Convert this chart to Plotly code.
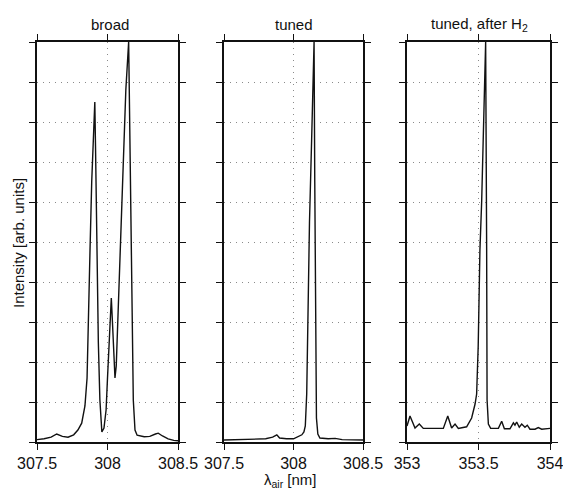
import plotly.graph_objects as go

# Emission line profiles: wavelength (nm) and intensity (arb. units)
broad_wl = [307.50, 307.55, 307.60, 307.64, 307.68, 307.72, 307.76, 307.79, 307.817,
            307.84, 307.855, 307.866, 307.876, 307.888, 307.90, 307.91, 307.915,
            307.923, 307.935, 307.946, 307.96, 307.975, 307.99, 308.00, 308.01,
            308.02, 308.027, 308.035, 308.045, 308.053, 308.062, 308.075, 308.089,
            308.11, 308.13, 308.15, 308.16, 308.167, 308.175, 308.183, 308.195,
            308.21, 308.26, 308.30, 308.34, 308.36, 308.39, 308.43, 308.47, 308.50]
broad_int = [0.06, 0.08, 0.12, 0.20, 0.14, 0.12, 0.18, 0.30, 0.47,
             0.90, 1.60, 3.00, 4.80, 6.50, 7.80, 8.50, 7.40,
             4.80, 2.50, 1.05, 0.25, 0.35, 0.80, 1.60, 2.50,
             3.30, 3.60, 3.00, 2.00, 1.60, 1.90, 3.20, 4.80,
             7.00, 8.80, 10.0, 7.50, 4.80, 2.50, 1.05, 0.30,
             0.17, 0.13, 0.14, 0.20, 0.22, 0.15, 0.08, 0.04, 0.03]

tuned_wl = [307.50, 307.60, 307.70, 307.80, 307.85, 307.88, 307.90, 307.95, 308.00,
            308.03, 308.06, 308.075, 308.085, 308.095, 308.105, 308.115, 308.13,
            308.14, 308.148, 308.153, 308.158, 308.165, 308.175, 308.19, 308.25,
            308.30, 308.35, 308.50]
tuned_int = [0.05, 0.06, 0.07, 0.08, 0.12, 0.18, 0.10, 0.08, 0.08,
             0.14, 0.18, 0.25, 0.40, 1.20, 3.50, 5.50, 7.50,
             8.70, 10.0, 6.50, 3.50, 0.60, 0.20, 0.10, 0.08,
             0.09, 0.06, 0.05]

h2_wl = [353.000, 353.021, 353.056, 353.086, 353.114, 353.254, 353.285, 353.312,
         353.336, 353.359, 353.417, 353.452, 353.476, 353.487, 353.498, 353.510,
         353.522, 353.534, 353.545, 353.550, 353.557, 353.560, 353.569, 353.585,
         353.639, 353.662, 353.681, 353.720, 353.744, 353.755, 353.767, 353.785,
         353.802, 353.825, 353.841, 353.860, 353.895, 353.918, 353.942, 353.977,
         354.000]
h2_int = [0.40, 0.65, 0.35, 0.45, 0.34, 0.34, 0.65, 0.35,
          0.45, 0.34, 0.38, 0.60, 0.95, 1.20, 2.40, 4.80,
          6.00, 7.70, 9.30, 10.0, 4.80, 1.05, 0.45, 0.34,
          0.34, 0.52, 0.33, 0.33, 0.48, 0.42, 0.50, 0.37,
          0.45, 0.37, 0.42, 0.32, 0.32, 0.36, 0.32, 0.34,
          0.34]

panel_titles = ["broad", "tuned", "tuned, after H<sub>2</sub>"]
x_ranges = [[307.5, 308.5], [307.5, 308.5], [353, 354]]
x_tickvals = [[307.5, 308, 308.5], [307.5, 308, 308.5], [353, 353.5, 354]]
x_ticktext = [["307.5", "308", "308.5"], ["307.5", "308", "308.5"], ["353", "353.5", "354"]]
y_ticks = list(range(0, 11))

W, H = 563, 492
FONT = "Liberation Sans, Arial, sans-serif"

# panel geometry in pixels (left, right); shared top/bottom
panel_px = [(37, 178), (224, 363), (407, 550)]
top_px, bot_px = 42, 442
title_cx = [110, 294, 479]

fig = go.Figure()
series = [(broad_wl, broad_int), (tuned_wl, tuned_int), (h2_wl, h2_int)]
for i, (wl, it) in enumerate(series):
    suffix = "" if i == 0 else str(i + 1)
    fig.add_trace(go.Scatter(x=wl, y=it, mode="lines",
                             line=dict(color="#111", width=1.4),
                             xaxis="x" + suffix, yaxis="y" + suffix,
                             showlegend=False, hoverinfo="skip"))

layout = dict(
    width=W, height=H,
    margin=dict(l=0, r=0, t=0, b=0),
    paper_bgcolor="white", plot_bgcolor="white",
    font=dict(family=FONT, color="#111", size=16),
    showlegend=False,
)

common_axis = dict(showline=True, linecolor="#111", linewidth=1.5, mirror="ticks",
                   ticks="outside", ticklen=6, tickwidth=1.3, tickcolor="#111",
                   showgrid=True, gridcolor="#8a8a8a", gridwidth=1, griddash="1px,5px",
                   zeroline=False, fixedrange=True, automargin=False,
                   ticklabeloverflow="allow")

for i in range(3):
    l, r = panel_px[i]
    suffix = "" if i == 0 else str(i + 1)
    layout["xaxis" + suffix] = dict(
        common_axis,
        domain=[l / W, r / W], range=x_ranges[i],
        tickvals=x_tickvals[i], ticktext=x_ticktext[i],
        tickfont=dict(size=16, family=FONT, color="#111"),
        anchor="y" + suffix,
    )
    layout["yaxis" + suffix] = dict(
        common_axis,
        domain=[1 - bot_px / H, 1 - top_px / H], range=[0, 10],
        tickvals=y_ticks, showticklabels=False,
        anchor="x" + suffix,
    )

annotations = []
for i, t in enumerate(panel_titles):
    annotations.append(dict(text=t, x=title_cx[i] / W, y=1 - 25 / H,
                            xref="paper", yref="paper", xanchor="center", yanchor="middle",
                            showarrow=False, font=dict(size=15, family=FONT, color="#111")))
annotations.append(dict(text="Intensity [arb. units]", x=18 / W, y=1 - 243 / H,
                        xref="paper", yref="paper", xanchor="center", yanchor="middle",
                        textangle=-90, showarrow=False,
                        font=dict(size=15, family=FONT, color="#111")))
annotations.append(dict(text="λ<sub>air</sub> [nm]", x=290 / W, y=1 - 480 / H,
                        xref="paper", yref="paper", xanchor="center", yanchor="middle",
                        showarrow=False, font=dict(size=15, family=FONT, color="#111")))
layout["annotations"] = annotations

fig.update_layout(**layout)
fig.write_html("out.html")
